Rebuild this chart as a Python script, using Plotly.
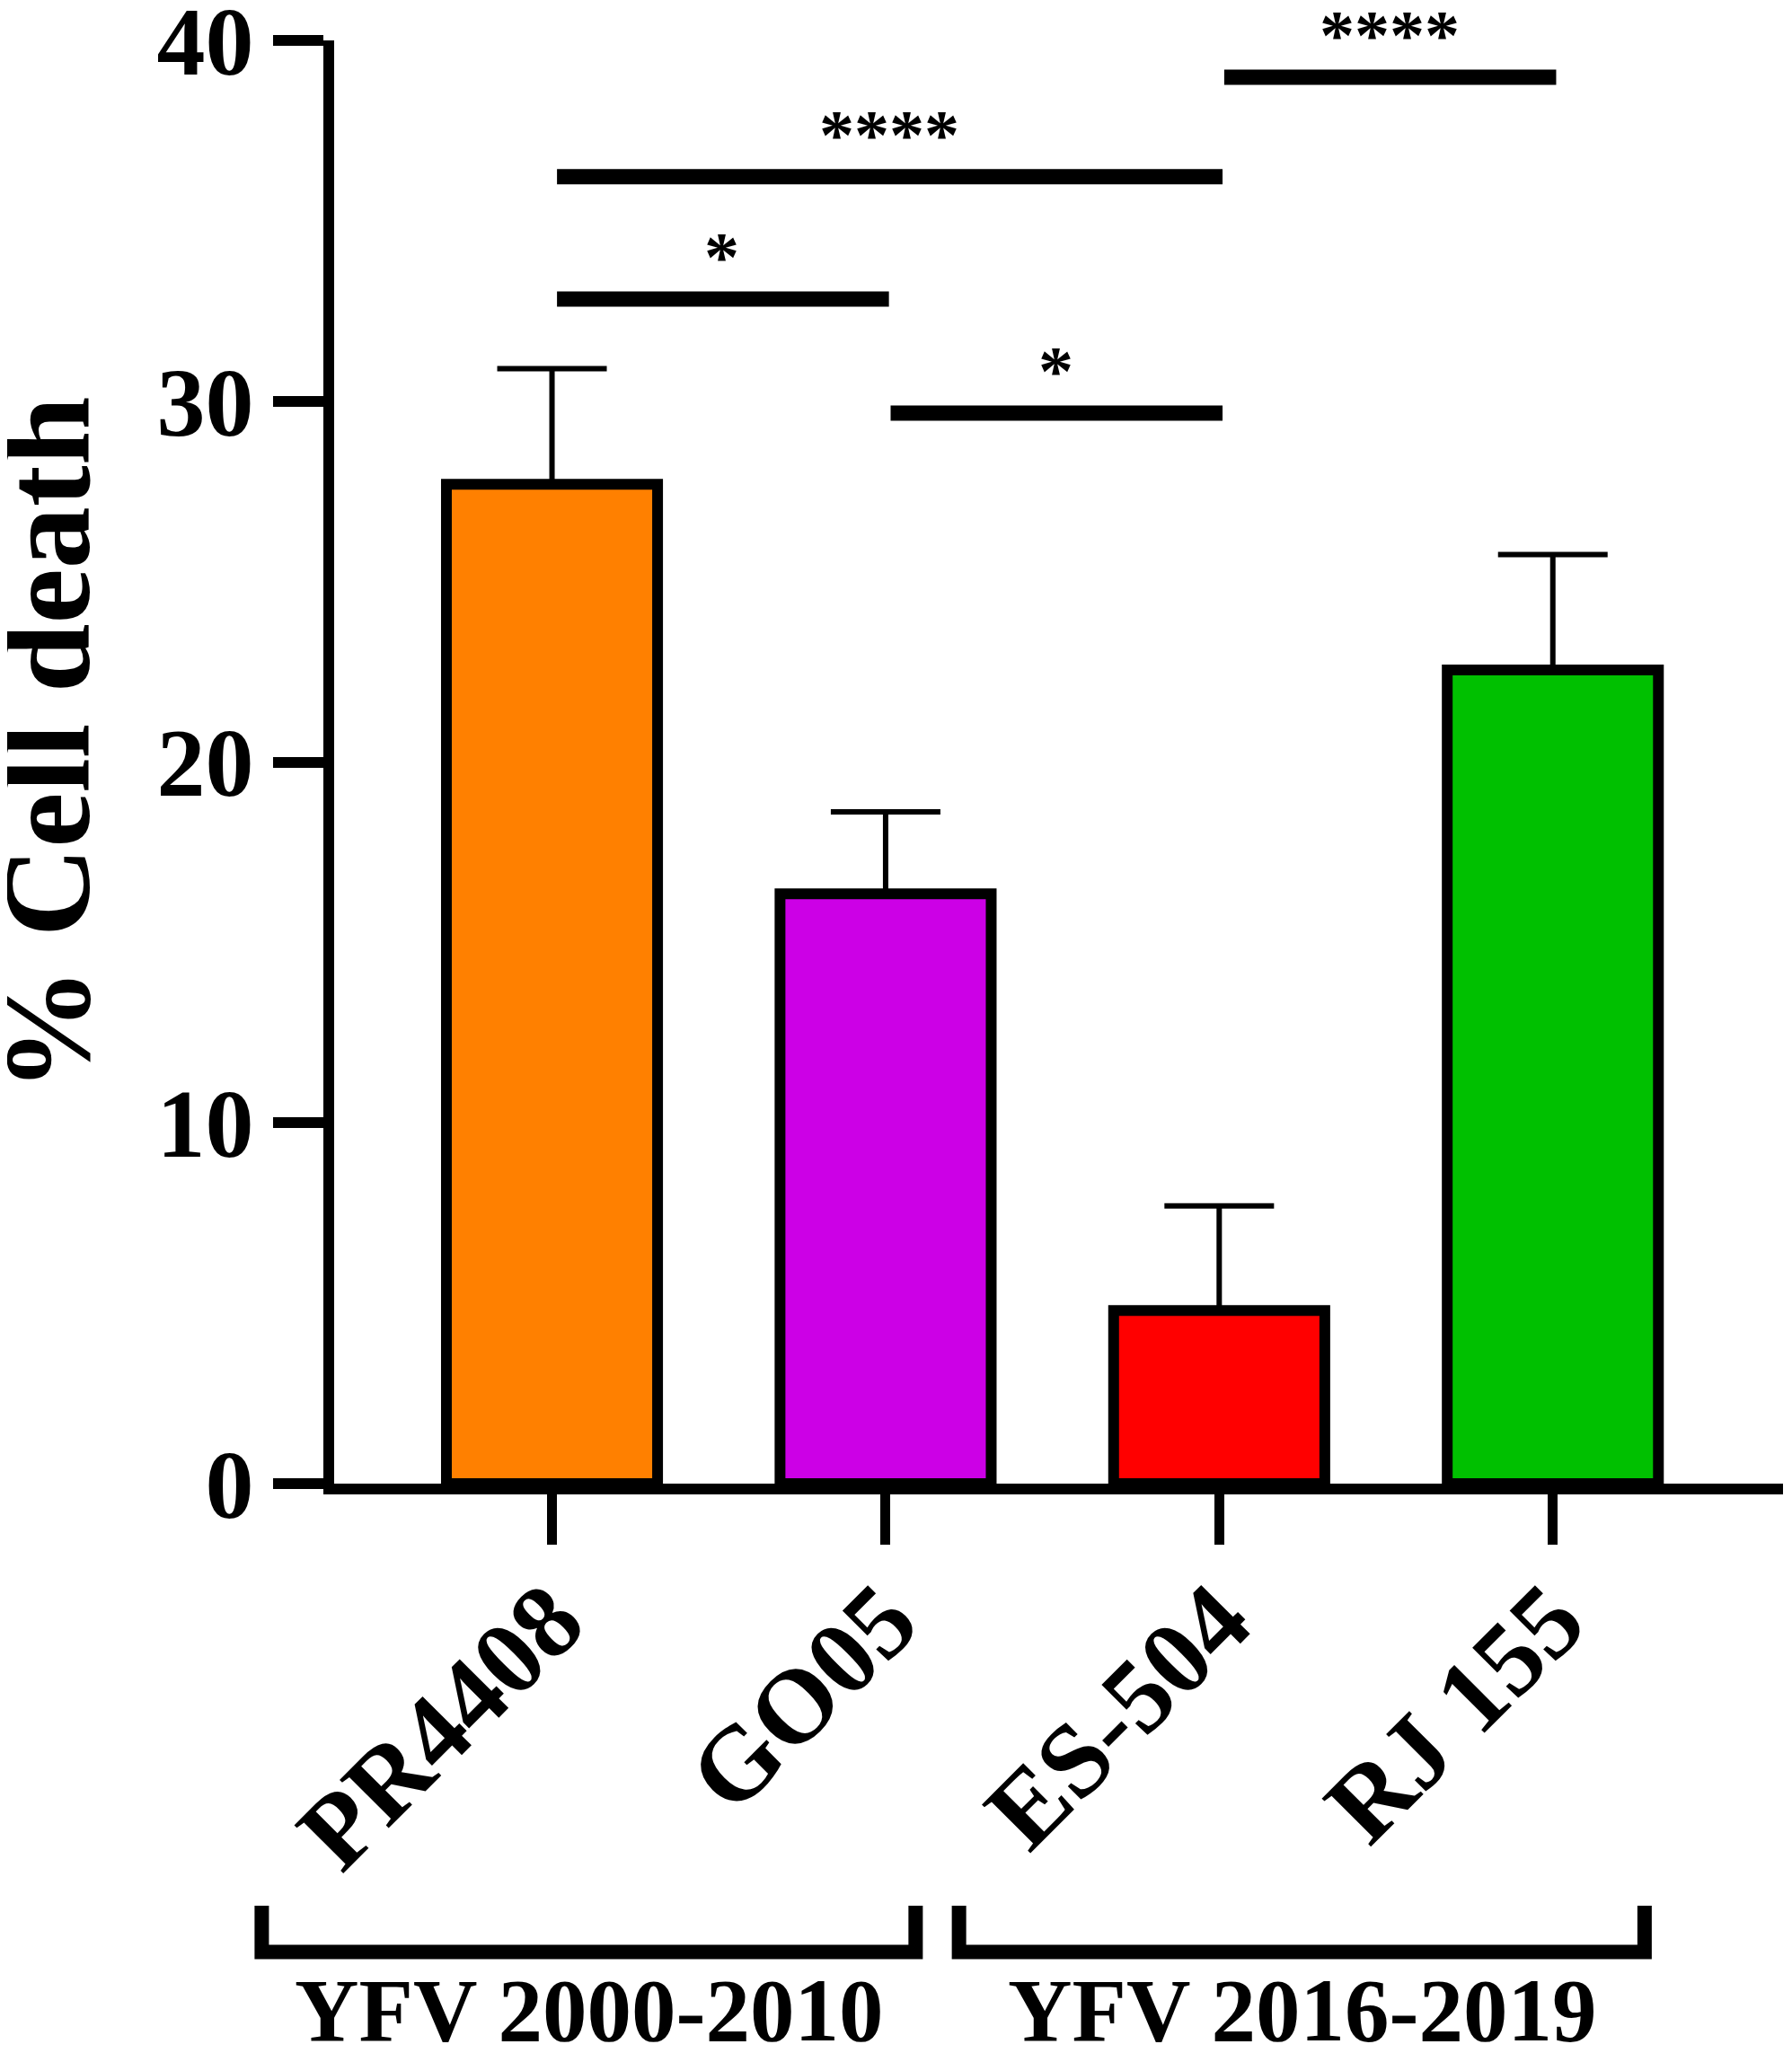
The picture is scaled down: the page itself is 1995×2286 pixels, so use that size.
import plotly.graph_objects as go

# values
strains = ["PR4408", "GO05", "ES-504", "RJ 155"]
cell_death = [27.7, 16.35, 4.8, 22.55]
sd = [3.2, 2.27, 2.9, 3.2]
bar_colors = ["#FF8000", "#CC00E6", "#FF0000", "#00C000"]

# significance comparisons (bar index a, bar index b, height, label)
comp_a = [0, 0, 1, 2]
comp_b = [1, 2, 2, 3]
comp_y = [32.83, 36.22, 29.67, 38.98]
comp_label = ["*", "****", "*", "****"]

groups = ["YFV 2000-2010", "YFV 2016-2019"]
group_span = [(-0.87, 1.09), (1.22, 3.275)]

FONT = "Liberation Serif, Times New Roman, serif"
X0, X1 = -0.653, 3.69
Y0, Y1 = 0, 40

# the page body has an 8px margin, so the figure is drawn 8px smaller
BODY = 8


def xpaper(v):
    return (v - X0) / (X1 - X0)


def ypaper(v):
    return (v - Y0) / (Y1 - Y0)


fig = go.Figure()
fig.add_trace(go.Bar(
    x=strains,
    y=cell_death,
    width=0.633,
    marker=dict(color=bar_colors, line=dict(color="black", width=12)),
    error_y=dict(type="data", symmetric=False, array=sd,
                 arrayminus=[0] * len(sd),
                 color="black", thickness=6, width=61),
))

shapes = []
annotations = []

# significance bars
for a, b, yv, lab in zip(comp_a, comp_b, comp_y, comp_label):
    shapes.append(dict(type="line", xref="x", yref="y",
                       x0=a + 0.015, x1=b + 0.01, y0=yv, y1=yv,
                       line=dict(color="black", width=17)))
    annotations.append(dict(x=(a + b) / 2 + 0.01, y=yv, xref="x", yref="y",
                            text=lab, showarrow=False, yanchor="bottom",
                            yshift=2,
                            font=dict(family=FONT, size=78, color="black",
                                      weight="bold")))

# group brackets under the x labels
yb_top, yb_bot = -11.7, -12.98
for name, (g0, g1) in zip(groups, group_span):
    shapes.append(dict(type="path", xref="paper", yref="paper",
                       path=f"M {xpaper(g0)},{ypaper(yb_top)} L {xpaper(g0)},{ypaper(yb_bot)} "
                            f"L {xpaper(g1)},{ypaper(yb_bot)} L {xpaper(g1)},{ypaper(yb_top)}",
                       line=dict(color="black", width=16)))
    annotations.append(dict(x=xpaper((g0 + g1) / 2), y=ypaper(-14.6),
                            xref="paper", yref="paper", text=name,
                            showarrow=False, xanchor="center", yanchor="middle",
                            font=dict(family=FONT, size=99, color="black",
                                      weight="bold")))

# y axis title
annotations.append(dict(x=-0.198, y=0.512, xref="paper", yref="paper",
                        text="% Cell death", textangle=-90, showarrow=False,
                        xanchor="center", yanchor="middle",
                        font=dict(family=FONT, size=138, color="black",
                                  weight="bold")))

fig.update_layout(
    template="none",
    width=1995 - BODY,
    height=2286 - BODY,
    margin=dict(l=372 - BODY, r=10, t=45 - BODY, b=634, autoexpand=False),
    plot_bgcolor="white",
    paper_bgcolor="white",
    showlegend=False,
    shapes=shapes,
    annotations=annotations,
)

fig.update_xaxes(
    range=[X0, X1],
    automargin=False,
    showline=True, linecolor="black", linewidth=12,
    ticks="outside", ticklen=56, tickwidth=11, tickcolor="black",
    tickangle=-45, ticklabelstandoff=-31,
    tickfont=dict(family=FONT, size=117, color="black", weight="bold"),
    showgrid=False, zeroline=False,
)
fig.update_yaxes(
    range=[Y0, Y1],
    automargin=False,
    tickvals=[0, 10, 20, 30, 40],
    ticklabeloverflow="allow",
    showline=True, linecolor="black", linewidth=12,
    ticks="outside", ticklen=56, tickwidth=12, tickcolor="black",
    tickfont=dict(family=FONT, size=108, color="black", weight="bold"),
    showgrid=False, zeroline=False,
)

fig.write_html("out.html")
